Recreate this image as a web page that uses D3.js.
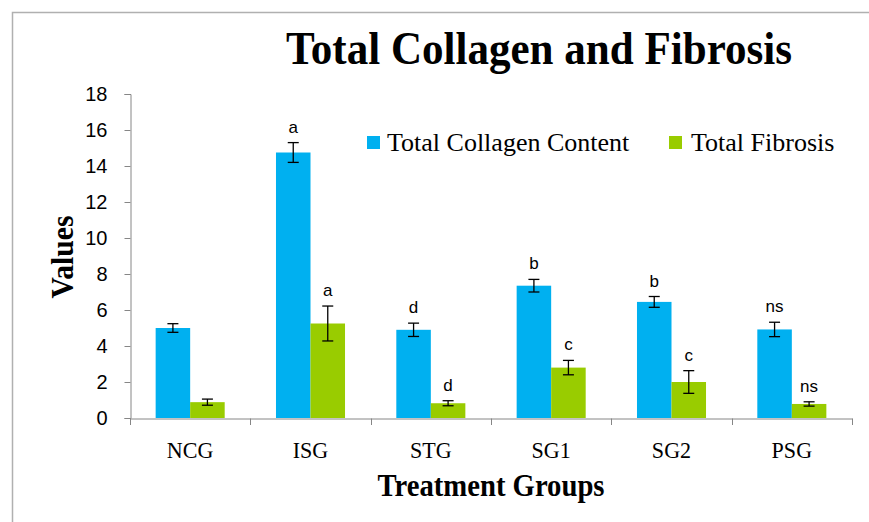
<!DOCTYPE html>
<html><head><meta charset="utf-8">
<script src="https://cdn.jsdelivr.net/npm/d3@7"></script>
<style>body{margin:0;background:#fff}svg{display:block}</style>
</head><body>
<svg id="c" width="869" height="522"></svg>
<script>
const categories = ["NCG","ISG","STG","SG1","SG2","PSG"];
const seriesNames = ["Total Collagen Content","Total Fibrosis"];
const collagen = [5.0, 14.75, 4.9, 7.35, 6.45, 4.92];
const collagenErr = [0.24, 0.55, 0.37, 0.35, 0.30, 0.40];
const fibrosis = [0.88, 5.25, 0.82, 2.8, 2.0, 0.78];
const fibrosisErr = [0.17, 0.97, 0.14, 0.40, 0.63, 0.12];
const collagenSig = ["", "a", "d", "b", "b", "ns"];
const fibrosisSig = ["", "a", "d", "c", "c", "ns"];
const yTicks = [0,2,4,6,8,10,12,14,16,18];
const colors = ["#00B0F0", "#99CC00"];

const svg = d3.select("#c");
const serif = "'Liberation Serif','Times New Roman',serif";
const sans = "'Liberation Sans',Arial,sans-serif";

// frame
svg.append("path").attr("d","M12.5,522 V12.5 H869").attr("fill","none").attr("stroke","#b0b0b0").attr("stroke-width",1.5);

const x0 = d3.scaleBand().domain(categories).range([130, 852]).padding(0);
const x1 = d3.scaleBand().domain(seriesNames).range([0, x0.bandwidth()]).paddingInner(0).paddingOuter(0.743);
const y = d3.scaleLinear().domain([0, 18]).range([418, 94]);

const data = categories.map((c,i)=>({c, vals:[
  {s:seriesNames[0], v:collagen[i], e:collagenErr[i], sig:collagenSig[i], col:colors[0]},
  {s:seriesNames[1], v:fibrosis[i], e:fibrosisErr[i], sig:fibrosisSig[i], col:colors[1]}
]}));

// y axis
const yAxis = d3.axisLeft(y).tickValues(yTicks).tickSize(6).tickPadding(17);
const gy = svg.append("g").attr("transform","translate(130.5,0)").call(yAxis);
gy.select(".domain").attr("stroke","#868686");
gy.selectAll(".tick line").attr("stroke","#868686");
gy.selectAll(".tick text").attr("font-family",sans).attr("font-size",20).attr("fill","#000");

// bars
const g = svg.append("g").selectAll("g").data(data).join("g")
  .attr("transform", d=>`translate(${x0(d.c)},0)`);
g.selectAll("rect").data(d=>d.vals).join("rect")
  .attr("x", d=>x1(d.s)).attr("width", x1.bandwidth())
  .attr("y", d=>y(d.v)).attr("height", d=>y(0)-y(d.v))
  .attr("fill", d=>d.col);

// error bars
const eb = g.selectAll("g.eb").data(d=>d.vals).join("g").attr("class","eb");
const cx = d=>x1(d.s)+x1.bandwidth()/2;
eb.append("line").attr("x1",cx).attr("x2",cx).attr("y1",d=>y(d.v+d.e)).attr("y2",d=>y(d.v-d.e))
  .attr("stroke","#000").attr("stroke-width",1.3);
eb.append("line").attr("x1",d=>cx(d)-5.5).attr("x2",d=>cx(d)+5.5).attr("y1",d=>y(d.v+d.e)).attr("y2",d=>y(d.v+d.e))
  .attr("stroke","#000").attr("stroke-width",1.3);
eb.append("line").attr("x1",d=>cx(d)-5.5).attr("x2",d=>cx(d)+5.5).attr("y1",d=>y(d.v-d.e)).attr("y2",d=>y(d.v-d.e))
  .attr("stroke","#000").attr("stroke-width",1.3);
eb.append("text").attr("x",cx).attr("y",d=>y(d.v+d.e)-10).attr("text-anchor","middle")
  .attr("font-family",sans).attr("font-size",17).attr("fill","#000").text(d=>d.sig);

// x axis
const xAxis = d3.axisBottom(x0).tickSize(0).tickPadding(22);
const gx = svg.append("g").attr("transform","translate(0,418.5)").call(xAxis);
gx.select(".domain").attr("stroke","#868686");
gx.selectAll(".tick text").attr("font-family",serif).attr("font-size",24).attr("fill","#000")
  .attr("transform","scale(0.92,1)").attr("x",function(){return 0;})
  .each(function(){ const t=d3.select(this.parentNode).attr("transform"); });
// keep labels centred under the scaled transform
gx.selectAll(".tick").each(function(){
  const tx = +d3.select(this).attr("transform").match(/translate\(([^,]+)/)[1];
  d3.select(this).select("text").attr("transform","scale(0.92,1)");
});
svg.append("g").selectAll("line").data(categories.concat(["_end"])).join("line")
  .attr("x1",(d,i)=> i<categories.length ? Math.round(x0(d))+0.5 : 852.5)
  .attr("x2",(d,i)=> i<categories.length ? Math.round(x0(d))+0.5 : 852.5)
  .attr("y1",418.5).attr("y2",425).attr("stroke","#868686");

// titles
svg.append("text").attr("x",539).attr("y",64).attr("text-anchor","middle")
  .attr("font-family",serif).attr("font-weight","bold").attr("font-size",47)
  .attr("textLength",506).attr("lengthAdjust","spacingAndGlyphs").text("Total Collagen and Fibrosis");
svg.append("text").attr("x",491).attr("y",496).attr("text-anchor","middle")
  .attr("font-family",serif).attr("font-weight","bold").attr("font-size",32)
  .attr("textLength",227).attr("lengthAdjust","spacingAndGlyphs").text("Treatment Groups");
svg.append("text").attr("transform","translate(73,257) rotate(-90)").attr("text-anchor","middle")
  .attr("font-family",serif).attr("font-weight","bold").attr("font-size",32)
  .attr("textLength",83).attr("lengthAdjust","spacingAndGlyphs").text("Values");

// legend
const legX = [367, 669], legTX = [387, 691];
const leg = svg.append("g").selectAll("g").data(seriesNames).join("g");
leg.append("rect").attr("x",(d,i)=>legX[i]).attr("y",136).attr("width",13).attr("height",13).attr("fill",(d,i)=>colors[i]);
leg.append("text").attr("x",(d,i)=>legTX[i]).attr("y",151).attr("font-family",serif).attr("font-size",26)
  .attr("fill","#000").text(d=>d);
</script>
</body></html>
